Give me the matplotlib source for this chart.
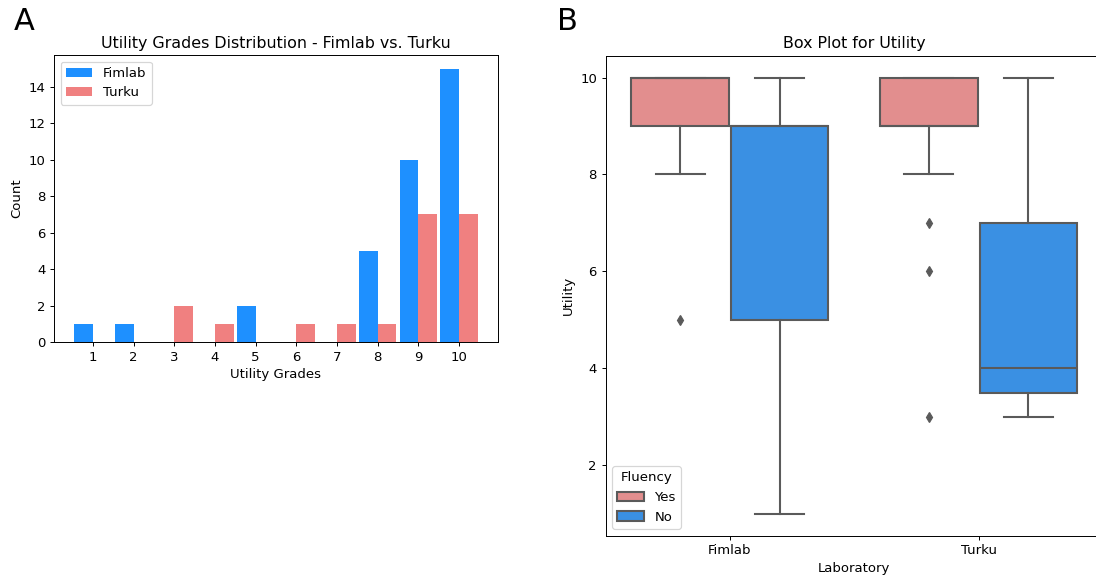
import colorsys
import matplotlib
matplotlib.use("Agg")
import matplotlib.pyplot as plt
from matplotlib.patches import Patch

# Panel A: counts per utility grade
grades = [1, 2, 3, 4, 5, 6, 7, 8, 9, 10]
fimlab_counts = [1, 1, 0, 0, 2, 0, 0, 5, 10, 15]
turku_counts = [0, 0, 2, 1, 0, 1, 1, 1, 7, 7]

# Panel B: box statistics (Yes / No per laboratory)
labs = ["Fimlab", "Turku"]
fluency = ["Yes", "No"]
q1 = {"Fimlab": [9, 5], "Turku": [9, 3.5]}
med = {"Fimlab": [10, 9], "Turku": [9, 4]}
q3 = {"Fimlab": [10, 9], "Turku": [10, 7]}
whislo = {"Fimlab": [8, 1], "Turku": [8, 3]}
whishi = {"Fimlab": [10, 10], "Turku": [10, 10]}
fliers = {"Fimlab": [[5], []], "Turku": [[7, 6, 3], []]}


def desaturate(color, prop):
    r, g, b = matplotlib.colors.to_rgb(color)
    h, l, s = colorsys.rgb_to_hls(r, g, b)
    return colorsys.hls_to_rgb(h, l, s * prop)


DPI = 88
plt.rcParams["font.size"] = 10.8
fig = plt.figure(figsize=(1096 / DPI, 577 / DPI), dpi=DPI)

# ── A: grouped bars ──────────────────────────────────────────────
ax = fig.add_axes([54 / 1096, 1 - 342 / 577, 444 / 1096, 287 / 577])
w = 0.46
ax.bar(grades, fimlab_counts, width=-w, align="edge", color="dodgerblue", label="Fimlab")
ax.bar(grades, turku_counts, width=w, align="edge", color="lightcoral", label="Turku")
ax.set_xticks(grades)
ax.set_xlabel("Utility Grades")
ax.set_ylabel("Count")
ax.set_title("Utility Grades Distribution - Fimlab vs. Turku", fontsize=13)
ax.legend(loc="upper left")

# ── B: box plot by laboratory and fluency ───────────────────────
ax2 = fig.add_axes([605.5 / 1096, 1 - 535.5 / 577, 497.5 / 1096, 479.8 / 577])
box_colors = [desaturate("lightcoral", 0.75), desaturate("dodgerblue", 0.75)]
gray = "#5a5a5a"
lw = 1.7

offsets = [-0.2, 0.2]
for i, lab in enumerate(labs):
    for j in range(2):
        stats = [{
            "q1": q1[lab][j], "med": med[lab][j], "q3": q3[lab][j],
            "whislo": whislo[lab][j], "whishi": whishi[lab][j],
            "fliers": fliers[lab][j],
        }]
        ax2.bxp(stats, positions=[i + offsets[j]], widths=0.392,
                patch_artist=True, manage_ticks=False,
                boxprops=dict(facecolor=box_colors[j], edgecolor=gray, linewidth=lw),
                medianprops=dict(color=gray, linewidth=lw),
                whiskerprops=dict(color=gray, linewidth=lw),
                capprops=dict(color=gray, linewidth=lw),
                flierprops=dict(marker="d", markerfacecolor=gray, markeredgecolor=gray,
                                markersize=5.5))

ax2.set_xlim(-0.5, 1.5)
ax2.set_ylim(0.55, 10.45)
ax2.set_xticks(range(len(labs)))
ax2.set_xticklabels(labs)
ax2.set_xlabel("Laboratory")
ax2.set_ylabel("Utility")
ax2.set_title("Box Plot for Utility", fontsize=13)
handles = [Patch(facecolor=c, edgecolor=gray, linewidth=lw, label=f)
           for c, f in zip(box_colors, fluency)]
ax2.legend(handles=handles, title="Fluency", loc="lower left")

fig.text(14 / 1096, 1 - 7 / 577, "A", fontsize=25, va="top", ha="left")
fig.text(557 / 1096, 1 - 7 / 577, "B", fontsize=25, va="top", ha="left")

fig.savefig("out.png", dpi=DPI)
